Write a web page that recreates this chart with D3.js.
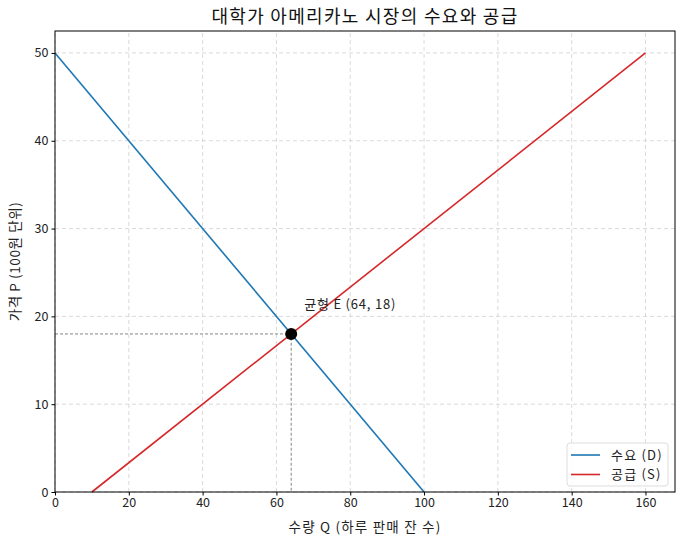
<!DOCTYPE html>
<html>
<head>
<meta charset="utf-8">
<script src="https://cdn.jsdelivr.net/npm/d3@7"></script>
<style>
    body { margin: 0; background: #fff; }
    svg { font-family: "Noto Sans CJK KR", "Noto Sans", sans-serif; }
    .grid line { stroke: #d0d0d0; stroke-dasharray: 4,3; stroke-width: 0.8; }
</style>
</head>
<body>
<svg id="chart" width="684" height="545"></svg>
<script>
    // demand: P = 50 - 0.5Q, supply: P = (Q - 10) / 3
    const demandQ = [0, 100];
    const demandP = [50, 0];
    const supplyQ = [10, 160];
    const supplyP = [0, 50];
    const eqPoint = [64, 18];
    const xTicks = [0, 20, 40, 60, 80, 100, 120, 140, 160];
    const yTicks = [0, 10, 20, 30, 40, 50];
    const seriesNames = ["수요 (D)", "공급 (S)"];
    const seriesColors = ["#1f77b4", "#d62728"];

    const margin = { left: 55, top: 31, right: 9, bottom: 53 };
    const width = 684, height = 545;
    const svg = d3.select("#chart");

    const x = d3.scaleLinear().domain([0, 168]).range([margin.left, width - margin.right]);
    const y = d3.scaleLinear().domain([0, 52.5]).range([height - margin.bottom, margin.top]);

    // grid
    const grid = svg.append("g").attr("class", "grid");
    grid.selectAll(".gx").data(xTicks).enter().append("line")
        .attr("x1", d => x(d)).attr("x2", d => x(d))
        .attr("y1", y.range()[0]).attr("y2", y.range()[1]);
    grid.selectAll(".gy").data(yTicks).enter().append("line")
        .attr("y1", d => y(d)).attr("y2", d => y(d))
        .attr("x1", x.range()[0]).attr("x2", x.range()[1]);

    const line = d3.line().x(d => x(d[0])).y(d => y(d[1]));
    const series = [
        d3.zip(demandQ, demandP),
        d3.zip(supplyQ, supplyP)
    ];

    // guide lines to equilibrium
    svg.append("path")
        .attr("d", line([[0, eqPoint[1]], eqPoint, [eqPoint[0], 0]]))
        .attr("fill", "none").attr("stroke", "#777").attr("stroke-width", 0.9)
        .attr("stroke-dasharray", "3,2");

    series.forEach((s, i) => {
        svg.append("path").attr("d", line(s))
            .attr("fill", "none").attr("stroke", seriesColors[i]).attr("stroke-width", 1.6);
    });

    svg.append("circle")
        .attr("cx", x(eqPoint[0])).attr("cy", y(eqPoint[1])).attr("r", 6)
        .attr("fill", "#000");

    svg.append("text")
        .attr("x", x(eqPoint[0]) + 13).attr("y", y(eqPoint[1]) - 25)
        .attr("font-size", 13).attr("letter-spacing", 0.8).attr("fill", "#222")
        .text(`균형 E (${eqPoint[0]}, ${eqPoint[1]})`);

    // axes
    const xAxis = svg.append("g").attr("transform", `translate(0,${y(0)})`)
        .call(d3.axisBottom(x).tickValues(xTicks).tickSize(3.5).tickPadding(3));
    const yAxis = svg.append("g").attr("transform", `translate(${x(0)},0)`)
        .call(d3.axisLeft(y).tickValues(yTicks).tickSize(3.5).tickPadding(3));
    [xAxis, yAxis].forEach(a => {
        a.select(".domain").remove();
        a.selectAll("text").attr("font-size", 12.5).attr("fill", "#222")
            .style("font-family", "'Noto Sans CJK KR', sans-serif");
        a.selectAll("line").attr("stroke", "#000");
    });

    svg.append("rect")
        .attr("x", x.range()[0]).attr("y", y.range()[1])
        .attr("width", x.range()[1] - x.range()[0])
        .attr("height", y.range()[0] - y.range()[1])
        .attr("fill", "none").attr("stroke", "#000").attr("stroke-width", 1);

    svg.append("text").attr("x", (x.range()[0] + x.range()[1]) / 2).attr("y", 23)
        .attr("text-anchor", "middle").attr("font-size", 18).attr("letter-spacing", 1.3)
        .attr("fill", "#111")
        .text("대학가 아메리카노 시장의 수요와 공급");

    svg.append("text").attr("x", (x.range()[0] + x.range()[1]) / 2).attr("y", 532)
        .attr("text-anchor", "middle").attr("font-size", 13.5).attr("letter-spacing", 1.2)
        .attr("fill", "#222")
        .text("수량 Q (하루 판매 잔 수)");

    svg.append("text")
        .attr("transform", `translate(20,${(y.range()[0] + y.range()[1]) / 2}) rotate(-90)`)
        .attr("text-anchor", "middle").attr("font-size", 13.5).attr("letter-spacing", 0.6)
        .attr("fill", "#222")
        .text("가격 P (100원 단위)");

    // legend
    const lg = svg.append("g").attr("transform", "translate(567,443)");
    lg.append("rect").attr("width", 101).attr("height", 43).attr("rx", 3)
        .attr("fill", "#fff").attr("fill-opacity", 0.85)
        .attr("stroke", "#ddd");
    seriesNames.forEach((name, i) => {
        const yy = 12 + i * 19.5;
        lg.append("line").attr("x1", 4).attr("x2", 33).attr("y1", yy).attr("y2", yy)
            .attr("stroke", seriesColors[i]).attr("stroke-width", 1.6);
        lg.append("text").attr("x", 44).attr("y", yy + 4.5)
            .attr("font-size", 13).attr("letter-spacing", 1.2).attr("fill", "#222").text(name);
    });
</script>
</body>
</html>
